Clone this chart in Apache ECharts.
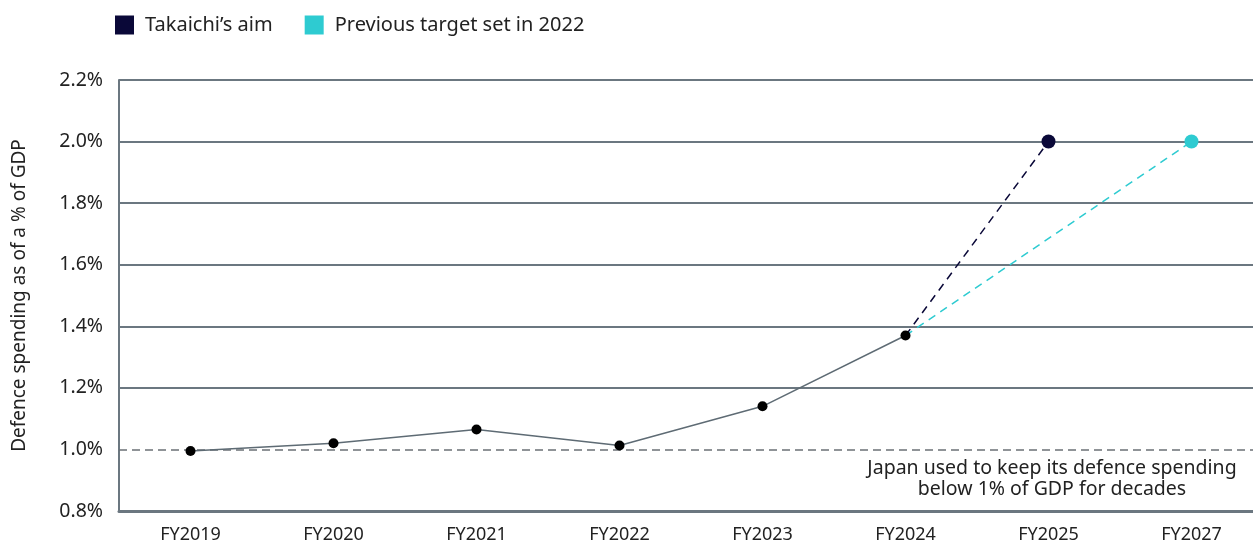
<!DOCTYPE html>
<html>
<head>
<meta charset="utf-8">
<script src="https://cdn.jsdelivr.net/npm/echarts@6/dist/echarts.min.js"></script>
<style>
  html, body { margin: 0; padding: 0; background: #fff; }
  #chart { width: 1253px; height: 549px; }
</style>
</head>
<body>
<div id="chart"></div>
<script>
// 数据
const years = ["FY2019", "FY2020", "FY2021", "FY2022", "FY2023", "FY2024", "FY2025", "FY2027"];
const actual = [0.995, 1.02, 1.065, 1.013, 1.14, 1.37, null, null];
const takaichiAim = [null, null, null, null, null, 1.37, 2.0, null];
const previousTarget = [null, null, null, null, null, 1.37, null, 2.0];
const yTicks = { min: 0.8, max: 2.2, interval: 0.2 };
const floorLevel = 1.0;
const noteText = "Japan used to keep its defence spending\nbelow 1% of GDP for decades";

const FONT = "'Noto Sans', sans-serif";
const GRID_GREY = "#6b7780";
const NAVY = "#0a0838";
const CYAN = "#2ecbd1";

const chart = echarts.init(document.getElementById("chart"));

// 终点大圆点, 起点不画
const endDot = (v, p) => (p.dataIndex === 5 ? 0 : 14);

const option = {
  animation: false,
  textStyle: { fontFamily: FONT },
  legend: {
    left: 110, top: 10,
    itemWidth: 19, itemHeight: 19, itemGap: 32,
    icon: "rect",
    textStyle: { fontSize: 20, color: "#222", fontFamily: FONT, padding: [0, 0, 0, 6] },
    data: [
      { name: "Takaichi’s aim", itemStyle: { color: NAVY } },
      { name: "Previous target set in 2022", itemStyle: { color: CYAN } }
    ]
  },
  // 右侧超出画布, 最后一格被裁掉
  grid: { left: 119, width: 1144, top: 80, bottom: 38, outerBoundsMode: "none" },
  xAxis: {
    type: "category",
    data: years,
    axisLine: { lineStyle: { color: GRID_GREY, width: 3 } },
    axisTick: { alignWithLabel: true, length: 6, lineStyle: { color: GRID_GREY, width: 1 } },
    axisLabel: { fontSize: 18, color: "#222", margin: 15, fontFamily: FONT }
  },
  yAxis: {
    type: "value",
    min: yTicks.min, max: yTicks.max, interval: yTicks.interval,
    name: "Defence spending as of a % of GDP",
    nameLocation: "middle",
    nameGap: 90,
    nameTextStyle: { fontSize: 19, color: "#222", fontFamily: FONT },
    axisLine: { show: true, lineStyle: { color: GRID_GREY, width: 2 } },
    axisTick: { show: false },
    axisLabel: { fontSize: 19.5, color: "#222", margin: 16, formatter: v => v.toFixed(1) + "%", fontFamily: FONT },
    splitLine: {
      lineStyle: {
        width: 2,
        color: [GRID_GREY, "rgba(0,0,0,0)", GRID_GREY, GRID_GREY, GRID_GREY, GRID_GREY, GRID_GREY, GRID_GREY]
      }
    }
  },
  series: [
    {
      name: "Actual",
      type: "line",
      data: actual,
      z: 5,
      symbol: "circle",
      symbolSize: 10,
      itemStyle: { color: "#000" },
      lineStyle: { color: "#5e6b74", width: 1.5 },
      markLine: {
        silent: true,
        symbol: "none",
        label: { show: false },
        lineStyle: { color: "#6b7075", type: [8, 5], width: 1.5 },
        data: [
          { yAxis: floorLevel },
          // 轴到FY2019那一段是实线
          [
            { coord: [-0.5, floorLevel], lineStyle: { type: "solid", color: GRID_GREY, width: 2 } },
            { coord: [0, floorLevel] }
          ]
        ]
      }
    },
    {
      name: "Takaichi’s aim",
      type: "line",
      data: takaichiAim,
      connectNulls: true,
      z: 4,
      symbol: "circle",
      symbolSize: endDot,
      itemStyle: { color: NAVY },
      lineStyle: { color: NAVY, width: 1.5, type: [8, 6] }
    },
    {
      name: "Previous target set in 2022",
      type: "line",
      data: previousTarget,
      connectNulls: true,
      z: 4,
      symbol: "circle",
      symbolSize: endDot,
      itemStyle: { color: CYAN },
      lineStyle: { color: CYAN, width: 1.5, type: [8, 6] }
    }
  ],
  graphic: [{
    type: "text",
    x: 1052, y: 458,
    style: {
      text: noteText,
      align: "center",
      verticalAlign: "top",
      fontSize: 19.5,
      lineHeight: 21,
      fill: "#222",
      fontFamily: FONT
    }
  }]
};

chart.setOption(option);
window.addEventListener("resize", () => chart.resize());
</script>
</body>
</html>
